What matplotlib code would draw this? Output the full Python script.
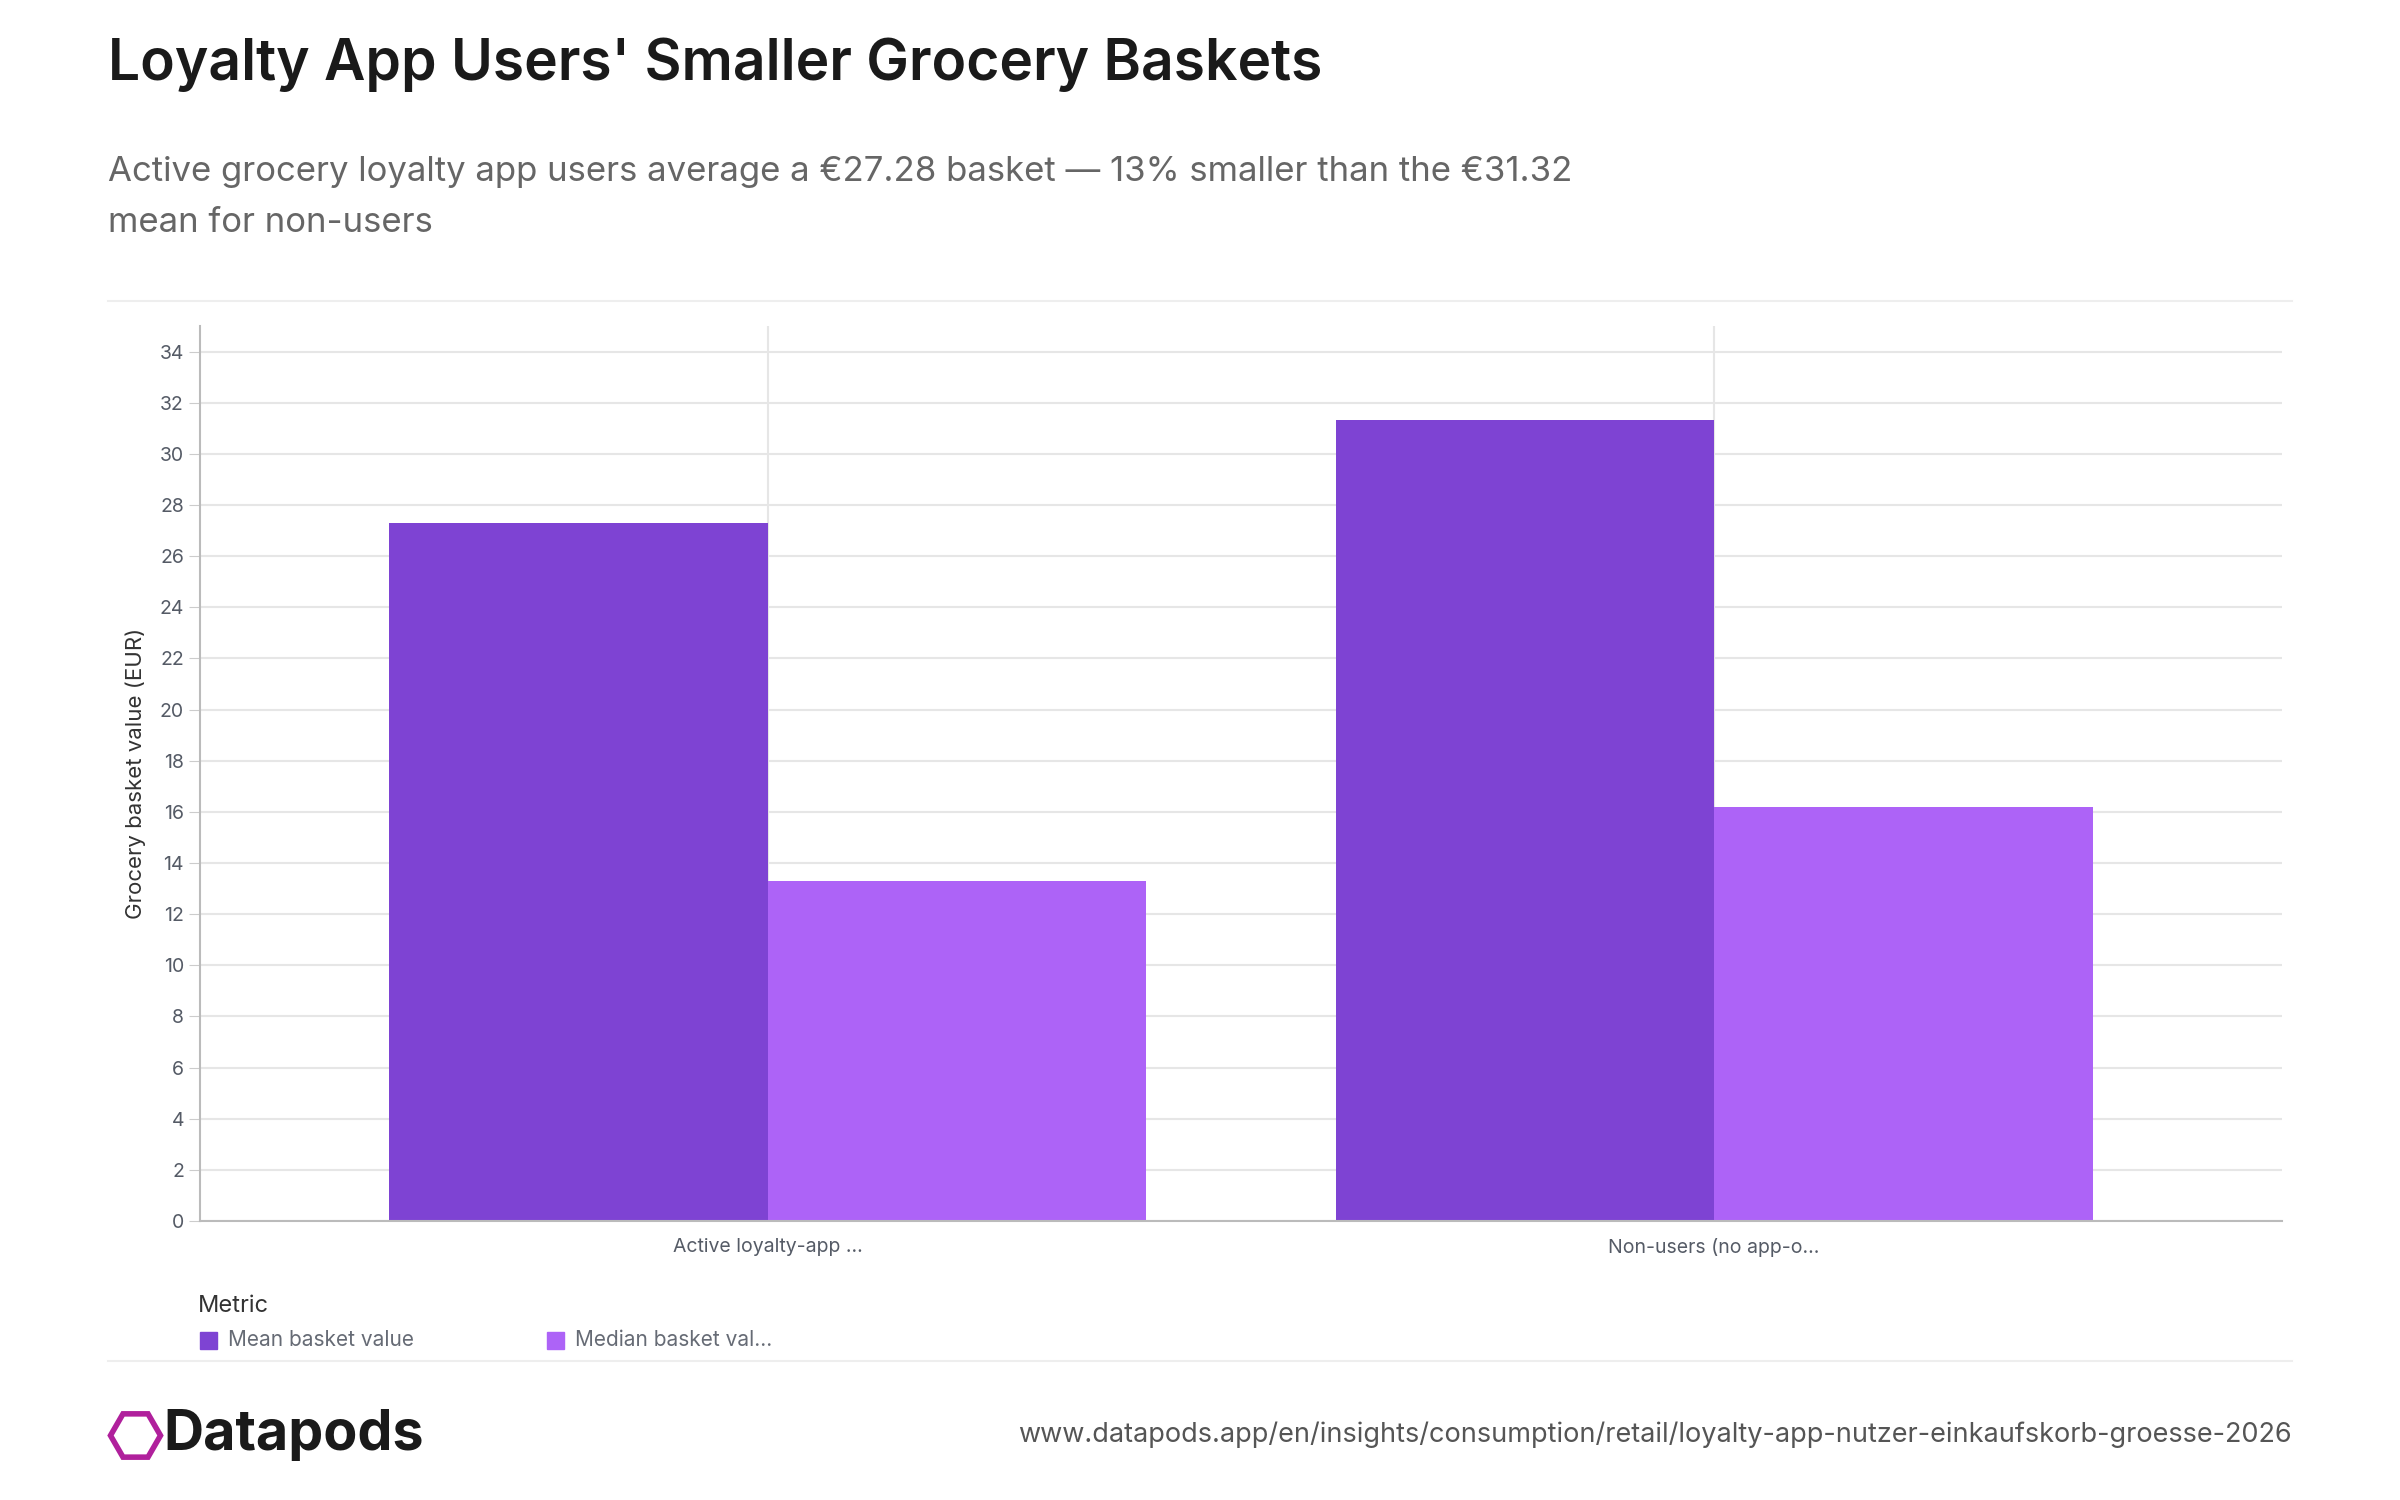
import matplotlib.pyplot as plt
import numpy as np
from matplotlib.patches import Rectangle

plt.rcParams['font.family'] = ['Inter', 'DejaVu Sans']

categories = ['Active loyalty-app ...', 'Non-users (no app-o...']
mean_values = [27.28, 31.32]
median_values = [13.3, 16.2]
series_names = ['Mean basket value', 'Median basket val...']
colors = ['#7E43D3', '#AD63F7']
yticks = list(range(0, 35, 2))

W, H = 2400, 1500
fig = plt.figure(figsize=(24, 15), dpi=100)

ax = fig.add_axes([200 / W, 1 - 1221 / H, (2282 - 200) / W, (1221 - 326) / H])
x = np.arange(len(categories))
ax.bar(x - 0.2, mean_values, width=0.4, color=colors[0], zorder=2)
ax.bar(x + 0.2, median_values, width=0.4, color=colors[1], zorder=2)
ax.set_xlim(-0.6, 1.6)
ax.set_ylim(0, 35)
ax.set_yticks(yticks)
ax.set_xticks(x)
ax.set_xticklabels(categories, fontsize=14, color='#555b66')
ax.tick_params(axis='y', labelsize=14, labelcolor='#555b66', color='#cccccc', length=8)
ax.tick_params(axis='x', length=0, pad=12)
ax.grid(True, color='#e6e6e6', linewidth=1.5, zorder=0)
for s in ['top', 'right']:
    ax.spines[s].set_visible(False)
for s in ['left', 'bottom']:
    ax.spines[s].set_color('#bbbbbb')
    ax.spines[s].set_linewidth(1.5)
ax.set_ylabel('Grocery basket value (EUR)', fontsize=16, color='#333333', labelpad=10)

fig.text(108 / W, 1 - 65 / H, "Loyalty App Users' Smaller Grocery Baskets",
         fontsize=41, fontweight='semibold', color='#1a1a1a', va='center')
fig.text(108 / W, 1 - 172 / H,
         "Active grocery loyalty app users average a €27.28 basket — 13% smaller than the €31.32",
         fontsize=25, color='#666666', va='center')
fig.text(108 / W, 1 - 223 / H, "mean for non-users", fontsize=25, color='#666666', va='center')

# separator lines
for yy in [301, 1361]:
    fig.add_artist(plt.Line2D([108 / W, 2292 / W], [1 - yy / H, 1 - yy / H],
                              color='#eeeeee', linewidth=1.5))

# legend
fig.text(198 / W, 1 - 1306 / H, 'Metric', fontsize=17, color='#333333', va='center')
for i, (name, xpos) in enumerate(zip(series_names, [200, 547])):
    fig.add_artist(Rectangle((xpos / W, 1 - 1349 / H), 17 / W, 17 / H,
                             color=colors[i], transform=fig.transFigure))
    fig.text((xpos + 28) / W, 1 - 1340 / H, name, fontsize=15, color='#666b75', va='center')

# footer
fig.text(163 / W, 1 - 1435 / H, 'Datapods', fontsize=40, fontweight='bold',
         color='#1a1a1a', va='center')
fig.add_artist(plt.Line2D([135 / W], [1 - 1435 / H], marker='H', markersize=36,
                          markerfacecolor='none', markeredgecolor='#b0209c',
                          markeredgewidth=4))
fig.text(2292 / W, 1 - 1435 / H,
         'www.datapods.app/en/insights/consumption/retail/loyalty-app-nutzer-einkaufskorb-groesse-2026',
         fontsize=19.5, color='#555555', va='center', ha='right')

fig.savefig('out.png', dpi=100)
